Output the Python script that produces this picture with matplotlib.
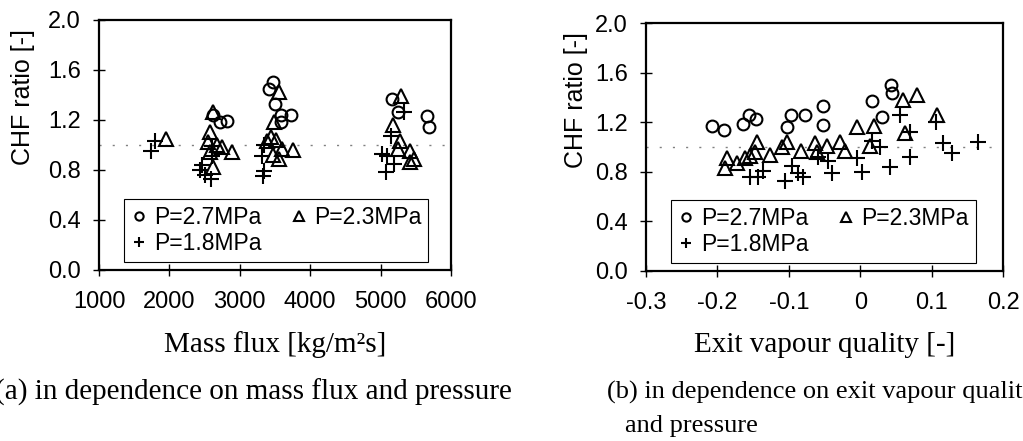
import numpy as np
import matplotlib
matplotlib.use("Agg")
import matplotlib.pyplot as plt

# --- data --------------------------------------------------------------
# (a) CHF ratio vs mass flux [kg/m2s]
g_27 = [2615, 2714, 2813, 3465, 3408, 3507, 3592, 3734, 3592, 5164, 5249, 5660, 5688]
r_g_27 = [1.24, 1.18, 1.19, 1.50, 1.45, 1.33, 1.24, 1.24, 1.18, 1.37, 1.26, 1.23, 1.14]

g_23 = [1949, 2615, 2572, 2544, 2671, 2742, 2884, 2615, 2572, 3564, 3493, 3521,
        3450, 3380, 3606, 3762, 3465, 3564, 5292, 5178, 5278, 5249, 5419, 5476, 5419]
r_g_23 = [1.05, 1.26, 1.10, 1.02, 1.00, 0.98, 0.94, 0.82, 0.94, 1.42, 1.18, 1.04,
          1.06, 1.03, 0.97, 0.96, 0.92, 0.89, 1.39, 1.16, 1.03, 0.97, 0.95, 0.89, 0.86]

g_18 = [1793, 1737, 2459, 2431, 2501, 2586, 2600, 2600, 3309, 3351, 3351, 3323,
        5150, 5023, 5093, 5193, 5079, 5334]
r_g_18 = [1.03, 0.95, 0.84, 0.80, 0.76, 0.73, 0.91, 0.99, 0.91, 1.00, 0.79, 0.75,
          1.07, 0.93, 0.91, 0.85, 0.78, 1.26]

# (b) CHF ratio vs exit vapour quality [-]
x_27 = [-0.208, -0.191, -0.164, -0.156, -0.146, -0.103, -0.097, -0.077, -0.052,
        -0.052, 0.016, 0.030, 0.043, 0.045]
r_x_27 = [1.17, 1.14, 1.19, 1.26, 1.23, 1.16, 1.26, 1.26, 1.33, 1.18, 1.37, 1.24, 1.50, 1.44]

x_23 = [-0.187, -0.189, -0.173, -0.161, -0.155, -0.145, -0.147, -0.126, -0.110,
        -0.102, -0.083, -0.063, -0.047, -0.029, -0.022, -0.005, 0.019, 0.014,
        0.060, 0.079, 0.063, 0.107, -0.061]
r_x_23 = [0.91, 0.83, 0.87, 0.91, 0.93, 1.04, 0.96, 0.94, 1.00, 1.04, 0.97, 1.03,
          1.01, 1.04, 0.97, 1.16, 1.17, 1.01, 1.38, 1.42, 1.11, 1.26, 0.96]

x_18 = [-0.154, -0.143, -0.136, -0.105, -0.096, -0.080, -0.087, -0.040, -0.059,
        -0.045, -0.005, 0.002, 0.027, 0.041, 0.056, 0.069, 0.070, 0.106, 0.116,
        0.128, 0.165, 0.016]
r_x_18 = [0.76, 0.76, 0.81, 0.73, 0.85, 0.76, 0.79, 0.79, 0.92, 0.89, 0.91, 0.80,
          1.00, 0.84, 1.26, 0.92, 1.12, 1.20, 1.03, 0.95, 1.04, 1.05]

labels = ["P=2.7MPa", "P=2.3MPa", "P=1.8MPa"]
yticks = [0.0, 0.4, 0.8, 1.2, 1.6, 2.0]
ytick_labels = ["0.0", "0.4", "0.8", "1.2", "1.6", "2.0"]
xticks_a = [1000, 2000, 3000, 4000, 5000, 6000]
xticks_b = [-0.3, -0.2, -0.1, 0.0, 0.1, 0.2]
xtick_labels_b = ["-0.3", "-0.2", "-0.1", "0", "0.1", "0.2"]

SANS = "Liberation Sans"
SERIF = "Liberation Serif"
plt.rcParams["font.family"] = SANS

fig = plt.figure(figsize=(10.23, 4.41), dpi=100)
ax_a = fig.add_axes([0.0968, 0.388, 0.344, 0.567])
ax_b = fig.add_axes([0.6315, 0.3855, 0.349, 0.562])


def style(ax, xs_list, ys_list, xticks, xticklabels, xlim, xlabel, ylab_x):
    mk = dict(linestyle="none", markerfacecolor="none", markeredgecolor="black",
              markeredgewidth=1.5)
    h27, = ax.plot(xs_list[0], ys_list[0], marker="o", markersize=8.5, label=labels[0], **mk)
    h23, = ax.plot(xs_list[1], ys_list[1], marker="^", markersize=9.5, label=labels[1], **mk)
    h18, = ax.plot(xs_list[2], ys_list[2], marker="+", markersize=11, label=labels[2], **mk)
    ax.axhline(1.0, color="#808080", lw=1.0, linestyle=(0, (1.5, 8)), zorder=0)
    ax.set_xlim(*xlim)
    ax.set_ylim(0, 2.0)
    ax.set_yticks(yticks)
    ax.set_yticklabels(ytick_labels)
    ax.set_xticks(xticks)
    ax.set_xticklabels(xticklabels)
    ax.tick_params(direction="inout", length=8, width=1, labelsize=17)
    ax.tick_params(axis="y", pad=9)
    ax.tick_params(axis="x", pad=11)
    for s in ax.spines.values():
        s.set_linewidth(1.6)
    ax.set_ylabel("CHF ratio [-]", fontsize=18, va="center")
    ax.yaxis.set_label_coords(ylab_x, 0.69)
    ax.set_xlabel(xlabel, fontsize=21, family=SERIF, va="center")
    ax.xaxis.set_label_coords(0.5, -0.30)
    leg = ax.legend([h27, h18, h23], [labels[0], labels[2], labels[1]], ncol=2,
                    loc="lower left", bbox_to_anchor=(0.071, 0.032),
                    borderaxespad=0, fontsize=16.5, markerscale=0.7,
                    handlelength=0.7, handletextpad=0.3, columnspacing=1.3,
                    labelspacing=0.15, borderpad=0.3, fancybox=False,
                    frameon=True, framealpha=1)
    leg.get_frame().set_edgecolor("black")
    leg.get_frame().set_linewidth(0.8)


style(ax_a, [g_27, g_23, g_18], [r_g_27, r_g_23, r_g_18], xticks_a,
      [str(v) for v in xticks_a], (1000, 6000), "Mass flux [kg/m\u00b2s]", -0.215)
style(ax_b, [x_27, x_23, x_18], [r_x_27, r_x_23, r_x_18], xticks_b,
      xtick_labels_b, (-0.3, 0.2), "Exit vapour quality [-]", -0.197)

fig.text(-0.005, 0.111, "(a) in dependence on mass flux and pressure",
         family=SERIF, fontsize=21, ha="left", va="center")
fig.text(0.593, 0.111, "(b) in dependence on exit vapour quality",
         family=SERIF, fontsize=19, ha="left", va="center")
fig.text(0.611, 0.034, "and pressure",
         family=SERIF, fontsize=19, ha="left", va="center")

fig.savefig("out.png", dpi=100)
